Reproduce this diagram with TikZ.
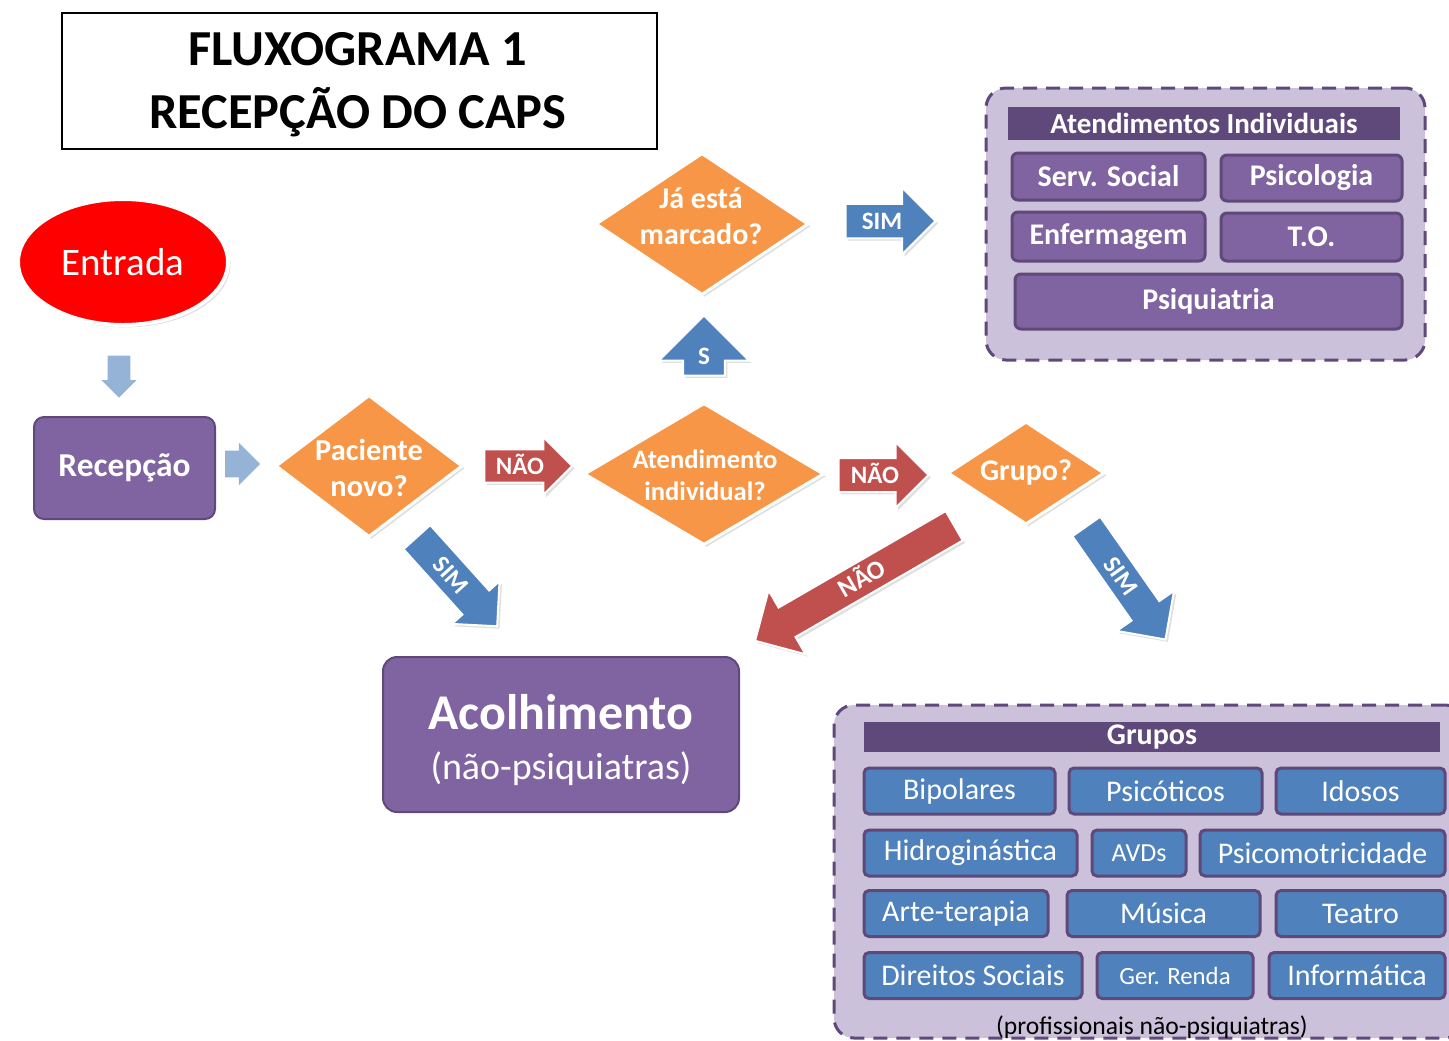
\documentclass[tikz,border=0pt]{standalone}
\usepackage{fontspec}
\setmainfont{Carlito}
\usetikzlibrary{shapes.geometric,shapes.arrows,shadows}

\definecolor{laranja}{HTML}{F79646}
\definecolor{roxo}{HTML}{8064A2}
\definecolor{roxoesc}{HTML}{5F497A}
\definecolor{lilas}{HTML}{CCC1DA}
\definecolor{azul}{HTML}{4F81BD}
\definecolor{vermelho}{HTML}{C0504D}
\definecolor{azulclaro}{HTML}{95B3D7}

\newcommand{\fs}[1]{\fontsize{#1}{1.2\dimexpr#1pt\relax}\selectfont}

\begin{document}
\begin{tikzpicture}[x=0.5pt, y=-0.5pt,
    sombra/.style={drop shadow={opacity=0.25, shadow xshift=1.2pt, shadow yshift=-1.2pt}},
    decisao/.style={diamond, fill=laranja, draw=white, line width=1.5pt, inner sep=0pt, sombra},
    pergunta/.style={text=white, align=center, inner sep=0pt},
    caixa/.style={rectangle, rounded corners=5pt, fill=roxo, draw=roxoesc, line width=1pt,
        text=white, align=center, inner sep=0pt},
    seta/.style={single arrow, draw=white, line width=1pt, text=white, inner xsep=1pt,
        text height=8pt, text depth=0pt,
        font=\bfseries\fs{12.5}, single arrow tip angle=90, sombra},
    setaclara/.style={single arrow, fill=azulclaro, inner sep=0pt, single arrow tip angle=90},
    conjunto/.style={rectangle, rounded corners=10pt, fill=lilas, draw=roxoesc,
        line width=1.5pt, dash pattern=on 7pt off 4.5pt},
    titulo/.style={rectangle, fill=roxoesc, text=white, font=\bfseries\fs{15}, inner sep=0pt},
    indiv/.style={caixa, rounded corners=3pt, line width=1.5pt, font=\bfseries\fs{15}},
    grupo/.style={rectangle, rounded corners=2.5pt, fill=azul, draw=roxoesc, line width=1.5pt,
        text=white, font=\fs{15}, inner sep=0pt, minimum height=23pt}]

\useasboundingbox (0,0) rectangle (1449,1040);

% titulo
\node (tit) [draw=black, line width=0.6pt, minimum width=297.5pt, minimum height=68pt] at (359.5,81) {};
\node (tittxt) [align=center, inner sep=0pt, font=\bfseries\fs{25.2}] at (358,84.5)
    {FLUXOGRAMA 1\\[1pt]RECEPÇÃO DO CAPS};

% entrada e recepcao
\node (entrada) [ellipse, fill=red, draw=white, line width=2pt, minimum width=105pt,
    minimum height=63pt, text=white, font=\fs{19.5}, sombra] at (123,262) {Entrada};
\node (s0) [setaclara, shape border rotate=270, minimum height=21pt, minimum width=17.5pt,
    inner xsep=5.5pt, single arrow head extend=3pt] at (119,371) {};
\node (recep) [caixa, minimum width=90.5pt, minimum height=51pt, font=\bfseries\fs{16.7}]
    at (124.5,468) {Recepção};
\node (s1) [setaclara, minimum height=17.5pt, minimum width=21pt, inner ysep=6.5pt,
    single arrow head extend=4pt] at (236,464) {};

% decisoes
\node (pac) [decisao, minimum width=93.5pt, minimum height=71pt] at (369,466) {};
\node (pactxt) [pergunta, font=\bfseries\fs{15.2}] at (369,468) {Paciente\\novo?};
\node (atend) [decisao, minimum width=120pt, minimum height=71pt] at (704,474) {};
\node (atendtxt) [pergunta, font=\bfseries\fs{13.3}] at (705,475) {Atendimento\\individual?};
\node (marc) [decisao, minimum width=106.5pt, minimum height=71pt] at (702,224) {};
\node (marctxt) [pergunta, font=\bfseries\fs{15}] at (701,216) {Já está\\marcado?};
\node (grp) [decisao, minimum width=78.5pt, minimum height=51.5pt] at (1026,473) {};
\node (grptxt) [pergunta, font=\bfseries\fs{15}] at (1026,472) {Grupo?};

% setas
\node (n1) [seta, fill=vermelho, minimum height=44pt, minimum width=29pt, inner ysep=3.5pt,
    single arrow head extend=6pt] at (520,466) {NÃO};
\node (sup) [seta, fill=azul, shape border rotate=90, minimum height=30pt, minimum width=45pt,
    inner xsep=7pt, inner ysep=1pt, single arrow head extend=12pt] at (704,356) {S};
\node (sim1) [seta, fill=azul, minimum height=45pt, minimum width=33.5pt, inner ysep=4pt,
    single arrow head extend=8pt] at (882,221) {SIM};
\node (n2) [seta, fill=vermelho, minimum height=45pt, minimum width=33pt, inner ysep=4pt,
    single arrow head extend=8pt] at (875,475) {NÃO};
\node (sim2) [seta, fill=azul, rotate=-48, minimum height=60pt, minimum width=32pt,
    inner ysep=4.5pt, single arrow head extend=7pt] at (451,575) {SIM};
\node (n3) [seta, fill=vermelho, rotate=30, shape border rotate=180, minimum height=115pt,
    minimum width=37pt, inner ysep=4pt, single arrow head extend=10pt, font=\bfseries\fs{13}]
    at (862,579) {NÃO};
\node (sim3) [seta, fill=azul, rotate=-55, minimum height=69pt, minimum width=35pt,
    inner ysep=4pt, single arrow head extend=9pt] at (1121,576) {SIM};

% acolhimento
\node (acolh) [caixa, rounded corners=7pt, minimum width=178pt, minimum height=77.5pt]
    at (561,734.5) {};
\node (acolhtxt) [pergunta, font=\fs{19}] at (561,740)
    {{\bfseries\fs{25}Acolhimento}\\[2pt]{\fs{19}(não-psiquiatras)}};

% atendimentos individuais
\node (indcx) [conjunto, minimum width=219.5pt, minimum height=136pt] at (1205.5,224) {};
\node (indtit) [titulo, minimum width=196pt, minimum height=16.5pt, font=\bfseries\fs{14.5}]
    at (1204,123.5) {Atendimentos Individuais};
\node (serv) [indiv, minimum width=96.5pt, minimum height=23.5pt] at (1108.5,176.5) {Serv. Social};
\node (psic) [indiv, minimum width=90.5pt, minimum height=23pt] at (1311.5,178) {Psicologia};
\node (enf) [indiv, minimum width=96.5pt, minimum height=24.5pt] at (1108.5,236.5) {Enfermagem};
\node (to) [indiv, minimum width=90.5pt, minimum height=24pt] at (1311.5,237) {T.O.};
\node (psiq) [indiv, minimum width=193.5pt, minimum height=27.5pt] at (1208.5,301.5) {Psiquiatria};

% grupos
\node (grpcx) [conjunto, minimum width=315.5pt, minimum height=166.5pt] at (1149.5,871.5) {};
\node (grptit) [titulo, minimum width=288pt, minimum height=15pt] at (1152,737) {Grupos};
\node (bip) [grupo, minimum width=95.5pt] at (959.5,791) {Bipolares};
\node (psict) [grupo, minimum width=96.5pt] at (1165.5,791) {Psicóticos};
\node (idos) [grupo, minimum width=84.5pt] at (1360.5,791) {Idosos};
\node (hidro) [grupo, minimum width=106.5pt] at (970.5,853) {Hidroginástica};
\node (avd) [grupo, minimum width=47pt, font=\fs{13}] at (1139,853) {AVDs};
\node (psicom) [grupo, minimum width=122.5pt] at (1322.5,853) {Psicomotricidade};
\node (arte) [grupo, minimum width=92pt] at (956,913.5) {Arte-terapia};
\node (mus) [grupo, minimum width=96.5pt] at (1163.5,913.5) {Música};
\node (teat) [grupo, minimum width=84.5pt] at (1360.5,913.5) {Teatro};
\node (dir) [grupo, minimum width=109pt] at (973,975.5) {Direitos Sociais};
\node (ger) [grupo, minimum width=78pt, font=\fs{12.4}] at (1175,975.5) {Ger. Renda};
\node (info) [grupo, minimum width=88pt] at (1357,975.5) {Informática};
\node (nota) [font=\fs{12.8}, inner sep=0pt] at (1152,1027) {(profissionais não-psiquiatras)};

\end{tikzpicture}
\end{document}
